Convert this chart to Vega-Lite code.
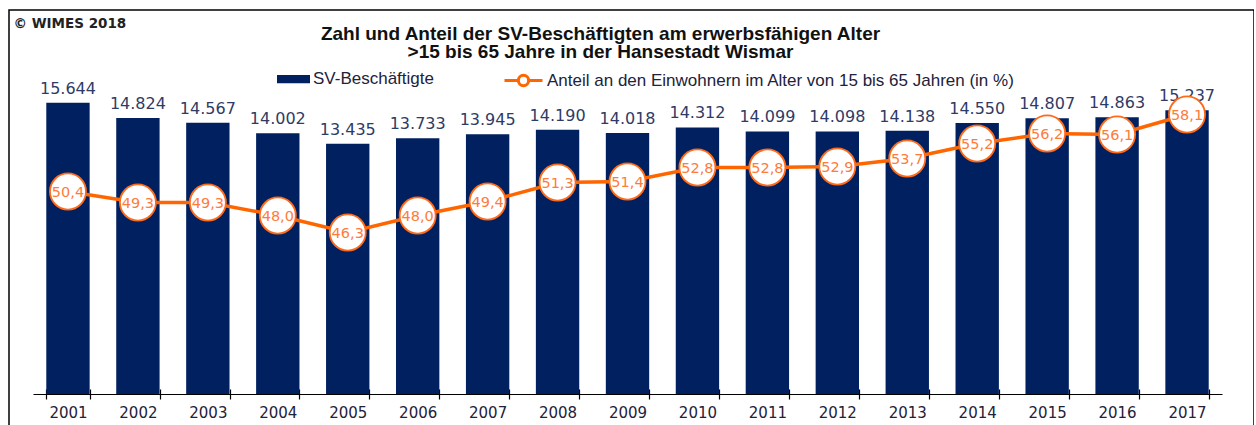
{
  "$schema": "https://vega.github.io/schema/vega-lite/v6.json",
  "width": 1245,
  "height": 440,
  "autosize": {"type": "none"},
  "padding": {"left": 9, "top": 10, "right": 0, "bottom": 0},
  "background": "white",
  "config": {
    "view": {"stroke": "#000000", "strokeWidth": 1.5},
    "font": "Liberation Sans",
    "locale": {"number": {"decimal": ",", "thousands": ".", "grouping": [3], "currency": ["", " €"]}}
  },
  "title": {
    "text": ["Zahl und Anteil der SV-Beschäftigten am erwerbsfähigen Alter", ">15 bis 65 Jahre in der Hansestadt Wismar"],
    "anchor": "middle",
    "frame": "group",
    "font": "Liberation Sans",
    "fontSize": 19,
    "fontWeight": "bold",
    "color": "#111111",
    "lineHeight": 18.5,
    "offset": -52,
    "dx": -31
  },
  "data": {"values": [
    {"jahr": "2001", "sv": 15644, "anteil": 50.4},
    {"jahr": "2002", "sv": 14824, "anteil": 49.3},
    {"jahr": "2003", "sv": 14567, "anteil": 49.3},
    {"jahr": "2004", "sv": 14002, "anteil": 48.0},
    {"jahr": "2005", "sv": 13435, "anteil": 46.3},
    {"jahr": "2006", "sv": 13733, "anteil": 48.0},
    {"jahr": "2007", "sv": 13945, "anteil": 49.4},
    {"jahr": "2008", "sv": 14190, "anteil": 51.3},
    {"jahr": "2009", "sv": 14018, "anteil": 51.4},
    {"jahr": "2010", "sv": 14312, "anteil": 52.8},
    {"jahr": "2011", "sv": 14099, "anteil": 52.8},
    {"jahr": "2012", "sv": 14098, "anteil": 52.9},
    {"jahr": "2013", "sv": 14138, "anteil": 53.7},
    {"jahr": "2014", "sv": 14550, "anteil": 55.2},
    {"jahr": "2015", "sv": 14807, "anteil": 56.2},
    {"jahr": "2016", "sv": 14863, "anteil": 56.1},
    {"jahr": "2017", "sv": 15237, "anteil": 58.1}
  ]},
  "layer": [
    {
      "encoding": {
        "x": {
          "field": "jahr",
          "type": "ordinal",
          "scale": {"range": [24, 1213], "paddingInner": 0.38, "paddingOuter": 0.19},
          "axis": {
            "orient": "bottom",
            "offset": -56,
            "title": null,
            "tickBand": "extent",
            "tickSize": 5,
            "tickColor": "#000000",
            "tickWidth": 1.2,
            "domainColor": "#000000",
            "domainWidth": 1.2,
            "labelAngle": 0,
            "labelFont": "DejaVu Sans",
            "labelFontSize": 15,
            "labelColor": "#22223a",
            "labelPadding": 6,
            "grid": false
          }
        }
      },
      "layer": [
        {
          "mark": {"type": "bar", "color": "#002060"},
          "encoding": {
            "y": {
              "field": "sv",
              "type": "quantitative",
              "scale": {"domain": [-3007, 20622], "nice": false, "zero": false},
              "axis": {
                "orient": "left",
                "domain": false,
                "ticks": false,
                "labels": false,
                "grid": false,
                "title": "© WIMES 2018",
                "titleAngle": 0,
                "titleAlign": "left",
                "titleBaseline": "top",
                "titleX": 4,
                "titleY": 6,
                "titleFont": "DejaVu Sans",
                "titleFontSize": 13.5,
                "titleFontWeight": "bold",
                "titleColor": "#222222"
              }
            },
            "y2": {"datum": 0},
            "fill": {
              "datum": "SV-Beschäftigte",
              "type": "nominal",
              "scale": {"range": ["#002060"]},
              "legend": {
                "orient": "none",
                "legendX": 268,
                "legendY": 52.5,
                "padding": 0,
                "title": null,
                "symbolType": "M-1,-0.25H1V0.25H-1Z",
                "symbolSize": 1089,
                "symbolStrokeWidth": 0,
                "labelOffset": 3,
                "labelFont": "Liberation Sans",
                "labelFontSize": 17,
                "labelColor": "#22223a"
              }
            }
          }
        },
        {
          "mark": {"type": "text", "baseline": "bottom", "dy": -6, "fontSize": 16, "font": "DejaVu Sans", "color": "#2f3b66"},
          "encoding": {
            "y": {"field": "sv", "type": "quantitative"},
            "text": {"field": "sv", "type": "quantitative", "format": ",d"}
          }
        }
      ]
    },
    {
      "encoding": {
        "x": {
          "field": "jahr",
          "type": "ordinal",
          "axis": {
            "orient": "top",
            "offset": -384,
            "title": null,
            "tickBand": "extent",
            "tickSize": 5,
            "tickColor": "#000000",
            "tickWidth": 1.2,
            "domain": false,
            "labels": false,
            "grid": false
          }
        }
      },
      "layer": [
        {
          "mark": {"type": "line", "strokeWidth": 3.5},
          "encoding": {
            "y": {
              "field": "anteil",
              "type": "quantitative",
              "scale": {"domain": [24.55, 68.55], "nice": false, "zero": false},
              "axis": null
            },
            "stroke": {
              "datum": "Anteil an den Einwohnern im Alter von 15 bis 65 Jahren (in %)",
              "type": "nominal",
              "scale": {"range": ["#ff6600"]},
              "legend": {
                "orient": "none",
                "legendX": 494,
                "legendY": 50,
                "padding": 0,
                "title": null,
                "symbolType": "M-1,0H-0.27M0.27,0H1M0.27,0A0.27,0.27,0,1,1,-0.27,0A0.27,0.27,0,1,1,0.27,0Z",
                "symbolSize": 1444,
                "symbolStrokeWidth": 3,
                "symbolFillColor": "#ffffff",
                "labelOffset": 3,
                "labelFont": "Liberation Sans",
                "labelFontSize": 17,
                "labelColor": "#22223a",
                "labelLimit": 800
              }
            }
          }
        },
        {
          "mark": {"type": "point", "shape": "circle", "filled": false, "fill": "#ffffff", "fillOpacity": 1, "size": 1300, "strokeWidth": 1.8, "stroke": "#ff6a1a", "opacity": 1},
          "encoding": {
            "y": {"field": "anteil", "type": "quantitative"}
          }
        },
        {
          "mark": {"type": "text", "fontSize": 14.5, "font": "DejaVu Sans", "color": "#ff7b3a", "baseline": "middle", "dy": 1},
          "encoding": {
            "y": {"field": "anteil", "type": "quantitative"},
            "text": {"field": "anteil", "type": "quantitative", "format": ".1f"}
          }
        }
      ]
    }
  ],
  "resolve": {"scale": {"y": "independent"}}
}
